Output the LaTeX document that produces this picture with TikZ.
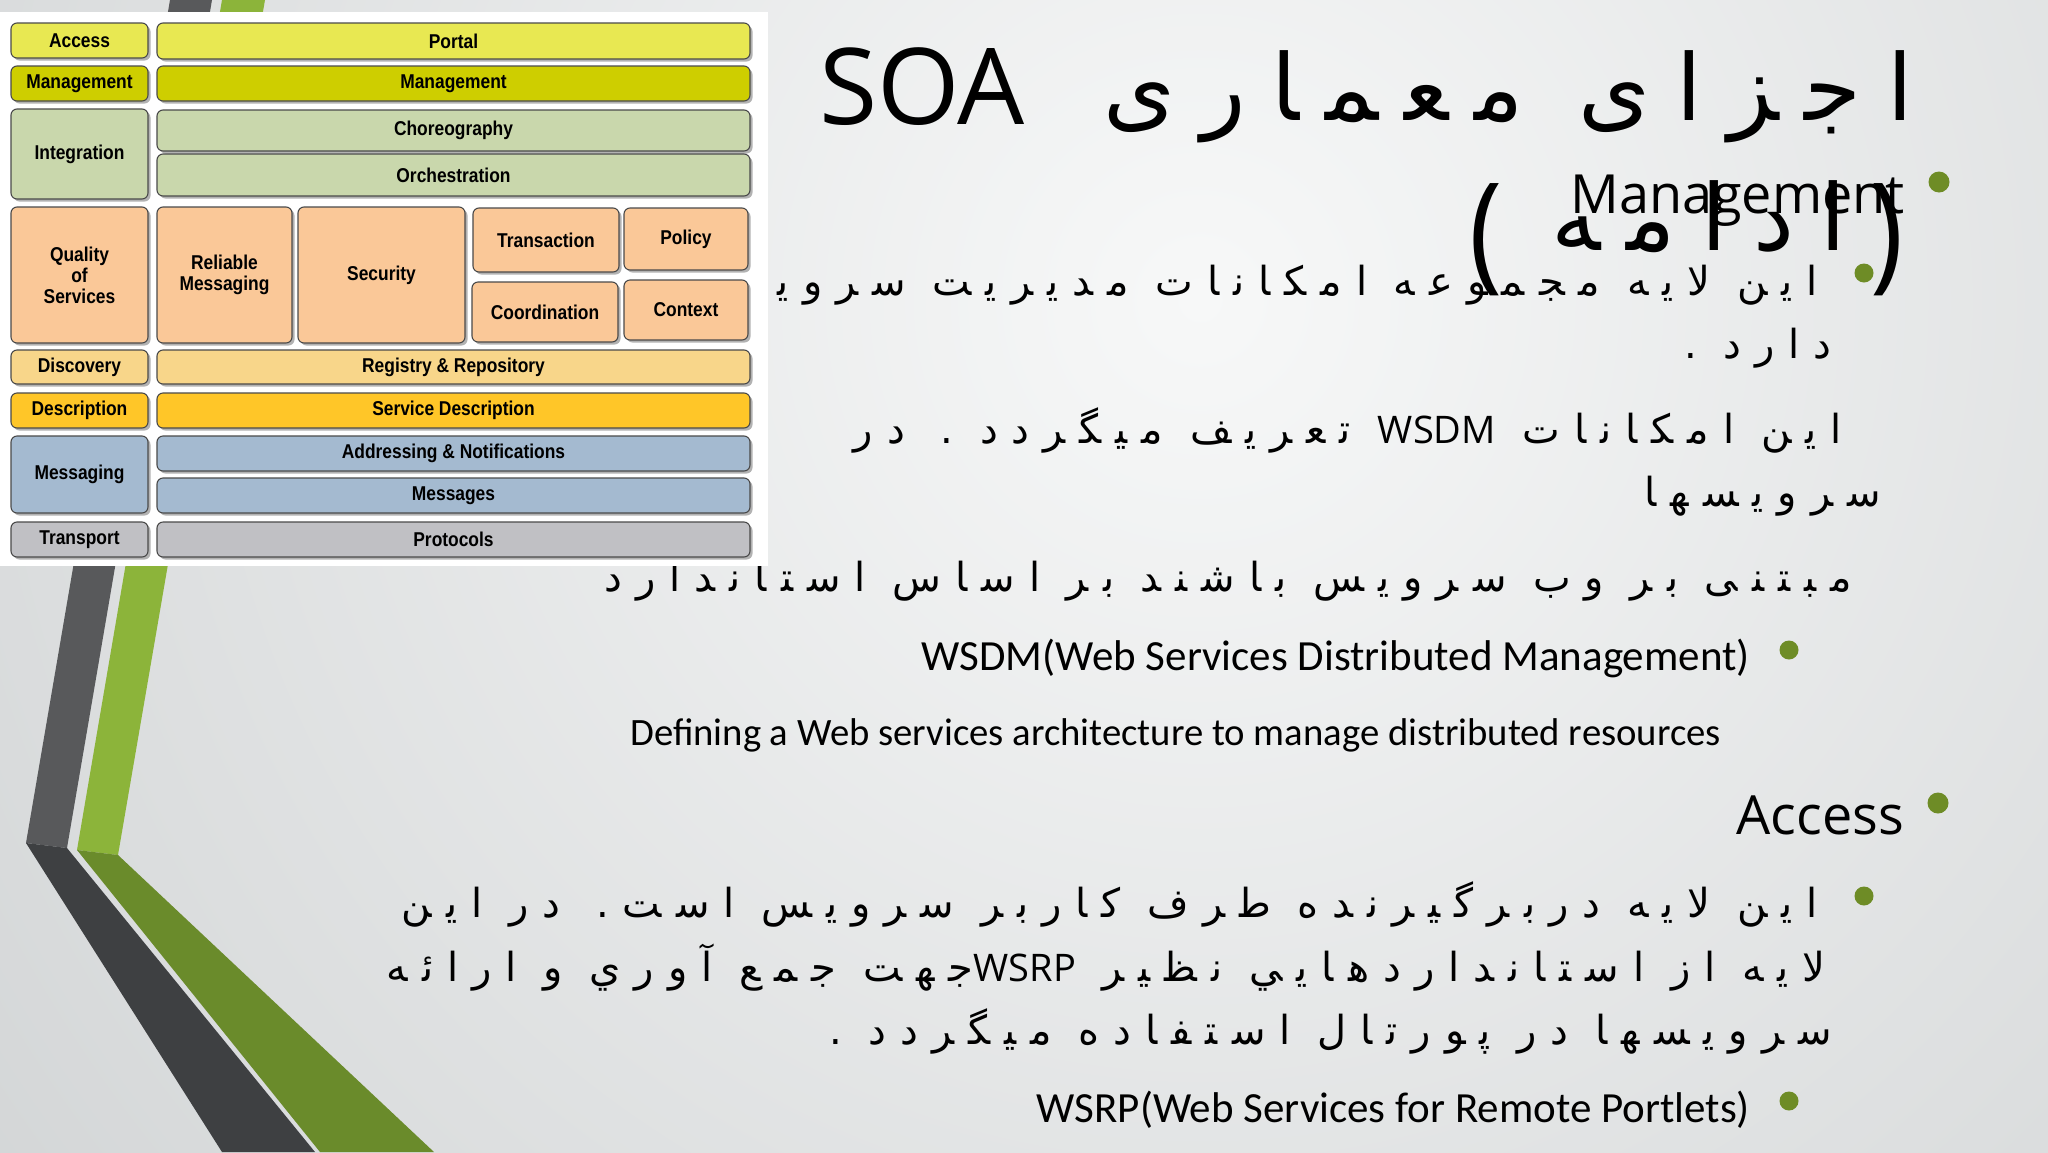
\documentclass[tikz,border=0pt]{standalone}
\usepackage{fontspec}
\usetikzlibrary{positioning,shadows}
\setmainfont{Open Sans}
\newfontfamily\boxfont[FakeStretch=0.87]{Liberation Sans}
\newfontfamily\farsi[Script=Arabic,LetterSpace=35]{DejaVu Sans}
\newfontfamily\farsititle[Script=Arabic,LetterSpace=28]{DejaVu Sans}
\newfontfamily\calib{Carlito}
\TeXXeTstate=1

\definecolor{bgin}{RGB}{247,248,248}
\definecolor{bgout}{RGB}{176,180,182}
\definecolor{darkstripe}{RGB}{88,89,91}
\definecolor{darkstripelow}{RGB}{62,64,66}
\definecolor{greenstripe}{RGB}{140,180,58}
\definecolor{greenstripelow}{RGB}{106,139,43}
\definecolor{bulletgreen}{RGB}{110,140,38}
\definecolor{boxline}{RGB}{74,74,74}
\definecolor{cAccess}{RGB}{232,232,82}
\definecolor{cMgmt}{RGB}{206,206,0}
\definecolor{cInteg}{RGB}{201,215,172}
\definecolor{cQos}{RGB}{250,200,152}
\definecolor{cDisc}{RGB}{248,214,138}
\definecolor{cDesc}{RGB}{255,198,40}
\definecolor{cMsg}{RGB}{164,186,208}
\definecolor{cTrans}{RGB}{192,192,196}

\tikzset{
  layer/.style={draw=boxline, line width=1.1pt, rounded corners=6pt, inner sep=0pt, align=center,
    font=\boxfont\bfseries\fontsize{20}{21}\selectfont,
    drop shadow={shadow xshift=2.5pt, shadow yshift=-2.5pt, fill=black, opacity=.3}},
  leftcol/.style={layer, minimum width=137},
  rightcol/.style={layer, minimum width=593},
  fa/.style={anchor=base east, inner sep=0pt, font=\farsi\fontsize{40}{44}\selectfont},
  en/.style={anchor=base east, inner sep=0pt, font=\calib\fontsize{43}{48}\selectfont},
  head/.style={anchor=base east, inner sep=0pt, font=\fontsize{54}{60}\selectfont},
  dot/.style={circle, fill=bulletgreen, inner sep=0pt, minimum size=#1},
  dot/.default=19
}
\newcommand{\latin}[1]{\beginL{\normalfont\fontsize{38}{42}\selectfont #1}\endL}
\newcommand{\tallparen}[1]{\raisebox{-25pt}{\scalebox{1}[1.15]{\normalfont\fontsize{112}{112}\selectfont #1}}}

\begin{document}
\begin{tikzpicture}[x=1pt,y=-1pt]
\useasboundingbox (0,0) rectangle (2048,1152);

% background
\begin{scope}
  \clip (0,0) rectangle (2048,1152);
  \shade[inner color=bgin, outer color=bgout] (-1800,-2700) rectangle (4200,3300);
\end{scope}

% left stripes
\fill[darkstripe] (170,0) -- (212,0) -- (67,848) -- (26,843) -- cycle;
\fill[greenstripe] (222,0) -- (265,0) -- (118,855) -- (77,850) -- cycle;
\fill[darkstripelow] (26,843) -- (67,848) -- (315,1152) -- (222,1152) -- cycle;
\fill[greenstripelow] (77,850) -- (118,855) -- (434,1152) -- (320,1152) -- cycle;

% title
\node[anchor=base west, inner sep=0pt, font=\fontsize{106}{110}\selectfont] (soa) at (819,124) {SOA};
\node[anchor=base east, inner sep=0pt, font=\farsititle\fontsize{92}{96}\selectfont] (title) at (1913,120) {\beginR اجزای معماری\endR};
\node[anchor=base east, inner sep=0pt, font=\farsititle\fontsize{92}{96}\selectfont] (title2) at (1904,250)
  {\tallparen{(}\hspace{49pt}\beginR ادامه\endR\hspace{25pt}\tallparen{)}};

% Management
\node[head] (mgmt) at (1905,213) {Management};
\node[dot=21] (b1) at (1939,182) {};
\node[dot] (b2) at (1864,273) {};
\node[fa] (p1) at (1818,295) {\beginR این لایه مجموعه امکانات مدیریت سرویس\endR};
\node[fa] (p2) at (1832,358) {\beginR دارد .\endR};
\node[fa] (p3) at (1842,443) {\beginR این امکانات \latin{WSDM} تعریف ميگردد . در\endR};
\node[fa] (p4) at (1881,506) {\beginR سرویسها\endR};
\node[fa] (p5) at (1852,591) {\beginR مبتنی بر وب سرویس باشند بر اساس استاندارد\endR};
\node[en] (wsdm) at (1750,670) {WSDM(Web Services Distributed Management)};
\node[dot] (b3) at (1789,650) {};
\node[en, font=\calib\fontsize{38.7}{44}\selectfont] (defn) at (1721,745) {Defining a Web services architecture to manage distributed resources};

% Access
\node[head] (acc) at (1904,834) {Access};
\node[dot=21] (b4) at (1938,803) {};
\node[dot] (b5) at (1864,896) {};
\node[fa] (a1) at (1818,917) {\beginR این لایه دربرگیرنده طرف کاربر سرویس است. در این\endR};
\node[fa] (a2) at (1826,981) {\beginR لایه از استانداردهایي نظیر \latin{WSRP}جهت جمع آوري و ارائه\endR};
\node[fa] (a3) at (1832,1044) {\beginR سرویسها در پورتال استفاده ميگردد .\endR};
\node[en] (wsrp) at (1750,1122) {WSRP(Web Services for Remote Portlets)};
\node[dot] (b6) at (1789,1101) {};

% SOA stack
\fill[white] (0,12) rectangle (768,566);

\node[leftcol, fill=cAccess, minimum height=35] (access) at (79.5,40.5) {Access};
\node[rightcol, fill=cAccess, minimum height=36] (portal) at (453.5,41) {Portal};
\node[leftcol, fill=cMgmt, minimum height=35] (mgmtl) at (79.5,83.5) {Management};
\node[rightcol, fill=cMgmt, minimum height=35] (mgmtr) at (453.5,83.5) {Management};
\node[leftcol, fill=cInteg, minimum height=90] (integ) at (79.5,154) {Integration};
\node[rightcol, fill=cInteg, minimum height=41] (chor) at (453.5,130.5) {Choreography};
\node[rightcol, fill=cInteg, minimum height=42] (orch) at (453.5,175) {Orchestration};

\node[leftcol, fill=cQos, minimum height=136] (qos) at (79.5,275) {Quality\\of\\Services};
\node[layer, fill=cQos, minimum width=135, minimum height=136] (relmsg) at (224.5,275) {Reliable\\Messaging};
\node[layer, fill=cQos, minimum width=167, minimum height=136] (sec) at (381.5,275) {Security};
\node[layer, fill=cQos, minimum width=146, minimum height=64] (trans) at (546,240) {Transaction};
\node[layer, fill=cQos, minimum width=124, minimum height=62] (policy) at (686,239) {Policy};
\node[layer, fill=cQos, minimum width=146, minimum height=60] (coord) at (545,312) {Coordination};
\node[layer, fill=cQos, minimum width=124, minimum height=60] (ctx) at (686,310) {Context};

\node[leftcol, fill=cDisc, minimum height=34] (disc) at (79.5,367) {Discovery};
\node[rightcol, fill=cDisc, minimum height=34] (reg) at (453.5,367) {Registry \& Repository};
\node[leftcol, fill=cDesc, minimum height=35] (desc) at (79.5,410.5) {Description};
\node[rightcol, fill=cDesc, minimum height=35] (sdesc) at (453.5,410.5) {Service Description};
\node[leftcol, fill=cMsg, minimum height=77] (msg) at (79.5,474.5) {Messaging};
\node[rightcol, fill=cMsg, minimum height=35] (addr) at (453.5,453.5) {Addressing \& Notifications};
\node[rightcol, fill=cMsg, minimum height=35] (msgs) at (453.5,495.5) {Messages};
\node[leftcol, fill=cTrans, minimum height=35] (trp) at (79.5,539.5) {Transport};
\node[rightcol, fill=cTrans, minimum height=35] (proto) at (453.5,539.5) {Protocols};
\end{tikzpicture}
\end{document}
